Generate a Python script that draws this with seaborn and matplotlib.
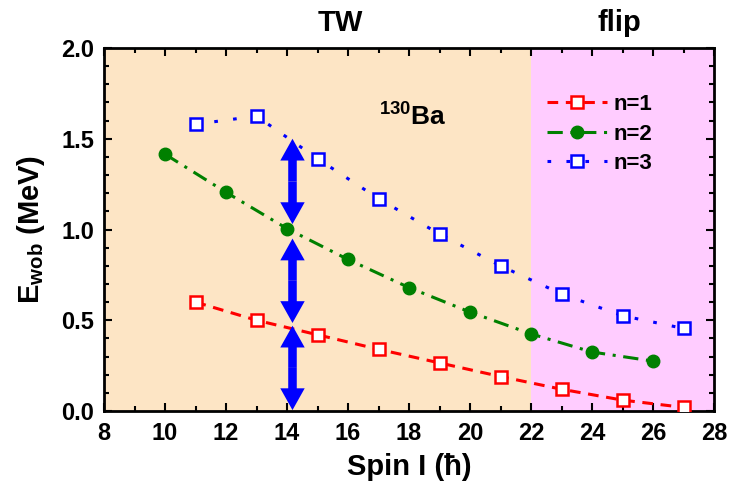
import matplotlib
matplotlib.use("Agg")
import matplotlib.pyplot as plt
import seaborn as sns
import pandas as pd
import numpy as np
from matplotlib.ticker import MultipleLocator, FormatStrFormatter

sns.set_theme(style="ticks")
plt.rcParams['font.family'] = ['Liberation Sans', 'DejaVu Sans']
plt.rcParams['font.weight'] = 'bold'
plt.rcParams['text.color'] = 'black'
plt.rcParams['axes.labelcolor'] = 'black'
plt.rcParams['xtick.color'] = 'black'
plt.rcParams['ytick.color'] = 'black'
plt.rcParams['mathtext.fontset'] = 'custom'
plt.rcParams['mathtext.rm'] = 'Liberation Sans:bold'
plt.rcParams['mathtext.bf'] = 'Liberation Sans:bold'

spin_n1 = [11, 13, 15, 17, 19, 21, 23, 25, 27]
e_n1 = [0.60, 0.50, 0.42, 0.34, 0.265, 0.19, 0.12, 0.06, 0.02]
spin_n2 = [10, 12, 14, 16, 18, 20, 22, 24, 26]
e_n2 = [1.415, 1.205, 1.005, 0.835, 0.68, 0.545, 0.425, 0.325, 0.275]
spin_n3 = [11, 13, 15, 17, 19, 21, 23, 25, 27]
e_n3 = [1.58, 1.625, 1.39, 1.17, 0.975, 0.80, 0.645, 0.525, 0.455]

arrow_x = 14.18
arrow_ranges = [(0.005, 0.47), (0.485, 0.95), (1.03, 1.50)]

df = pd.concat([
    pd.DataFrame({"spin": spin_n1, "E": e_n1, "n": "n=1"}),
    pd.DataFrame({"spin": spin_n2, "E": e_n2, "n": "n=2"}),
    pd.DataFrame({"spin": spin_n3, "E": e_n3, "n": "n=3"}),
])

fig = plt.figure(figsize=(7.30, 4.83), dpi=100)
ax = fig.add_axes([104/730, 1 - 411/483, (714-104)/730, (411-48)/483])

ax.axvspan(8, 22, color="#FDE5C5", zorder=0, lw=0)
ax.axvspan(22, 28, color="#FFCCFF", zorder=0, lw=0)

styles = {
    "n=1": dict(color="red", ls=(0, (3.5, 2.5)), marker="s", mfc="white", mec="red", ms=8, mew=1.8),
    "n=2": dict(color="green", ls=(0, (5, 2.5, 1, 2.5)), marker="o", mfc="green", mec="green", ms=9, mew=1),
    "n=3": dict(color="blue", ls=(0, (1.2, 5)), marker="s", mfc="white", mec="blue", ms=8, mew=1.8),
}
for name, st in styles.items():
    sub = df[df["n"] == name]
    sns.lineplot(data=sub, x="spin", y="E", ax=ax, label=name, lw=2.2,
                 color=st["color"], linestyle=st["ls"], marker=st["marker"],
                 markerfacecolor=st["mfc"], markeredgecolor=st["mec"],
                 markersize=st["ms"], markeredgewidth=st["mew"], zorder=3)

for lo, hi in arrow_ranges:
    mid = 0.5 * (lo + hi)
    for end in (hi, lo):
        ax.arrow(arrow_x, mid, 0, end - mid, width=0.28, head_width=0.8,
                 head_length=0.12, length_includes_head=True,
                 color="#0000FF", lw=0, zorder=4)

ax.set_xlim(8, 28)
ax.set_ylim(0, 2.0)
ax.xaxis.set_major_locator(MultipleLocator(2))
ax.xaxis.set_minor_locator(MultipleLocator(1))
ax.yaxis.set_major_locator(MultipleLocator(0.5))
ax.yaxis.set_minor_locator(MultipleLocator(0.1))
ax.tick_params(which="both", direction="in", top=True, right=True, width=1.5, colors="black")
ax.tick_params(which="major", length=6, labelsize=17)
ax.tick_params(which="minor", length=3.5)
ax.tick_params(axis="x", which="major", pad=8)
ax.tick_params(axis="y", which="major", pad=7)
ax.xaxis.set_major_formatter(FormatStrFormatter("%d"))
ax.yaxis.set_major_formatter(FormatStrFormatter("%.1f"))
for lab in ax.get_xticklabels() + ax.get_yticklabels():
    lab.set_fontweight("bold")
for s in ax.spines.values():
    s.set_linewidth(2)
    s.set_color("black")

ax.set_xlabel("Spin I (ħ)", fontsize=21, fontweight="bold", labelpad=6)
ax.set_ylabel(r"E$_{\mathregular{wob}}$ (MeV)", fontsize=21, fontweight="bold", labelpad=10)

ax.text(15.76, 2.14, "TW", fontsize=21, fontweight="bold", ha="center", va="center")
ax.text(24.9, 2.14, "flip", fontsize=21, fontweight="bold", ha="center", va="center")
ax.text(18.13, 1.58, r"$^{\mathregular{130}}$Ba", fontsize=19, fontweight="bold",
        ha="center", va="baseline")

leg = ax.legend(loc="upper left", bbox_to_anchor=(0.726, 0.873), frameon=False,
                fontsize=16, handlelength=2.7, labelspacing=0.38, handletextpad=0.3,
                borderaxespad=0, borderpad=0)
for t in leg.get_texts():
    t.set_fontweight("bold")

fig.savefig("out.png", dpi=100)
